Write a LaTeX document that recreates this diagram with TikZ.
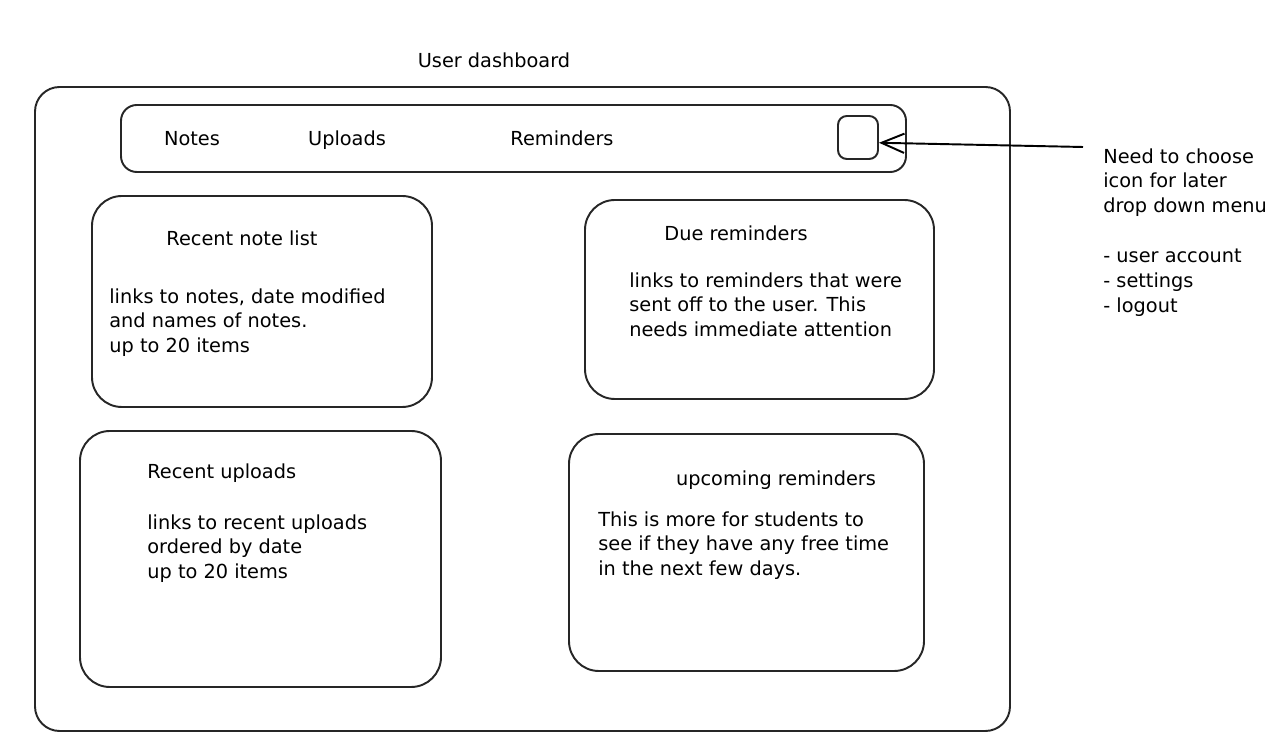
\documentclass[tikz,border=0pt]{standalone}
\usepackage{fontspec}
\setmainfont{DejaVu Sans}
\usetikzlibrary{arrows.meta, positioning}

\tikzset{
  panel/.style={draw=black!85, line width=1.1pt, rounded corners=14pt},
  label/.style={inner sep=0pt, font=\fontsize{11}{14.2}\selectfont},
  head/.style={label, text height=7.6pt, text depth=2.2pt, yshift=-1.5pt},
  body/.style={label, anchor=north west, align=left},
}

\begin{document}
\begin{tikzpicture}[x=0.02cm, y=-0.02cm]
  \useasboundingbox (0,0) rectangle (1279,756);

  % frame and nav bar
  \draw[panel] (35,87) rectangle (1010,731);
  \draw[panel, rounded corners=9pt] (121,105) rectangle (906,172);
  \node[head] (title) at (494,60) {User dashboard};
  \node[head] (notes) at (192,138) {Notes};
  \node[head] (uploads) at (347,138) {Uploads};
  \node[head] (reminders) at (562,138) {Reminders};
  \node[panel, rounded corners=5pt, minimum width=0.8cm, minimum height=0.86cm, inner sep=0pt] (icon) at (858,137.5) {};

  % four panels
  \draw[panel, rounded corners=17pt] (92,196) rectangle (432,407);
  \draw[panel, rounded corners=17pt] (585,200) rectangle (934,399);
  \draw[panel, rounded corners=17pt] (80,431) rectangle (441,687);
  \draw[panel, rounded corners=17pt] (569,434) rectangle (924,671);

  \node[head] (notehead) at (242,238) {Recent note list};
  \node[body] (notebody) at (109,288) {links to notes, date modified\\and names of notes.\\up to 20 items};

  \node[head] (duehead) at (736,233) {Due reminders};
  \node[body] (duebody) at (629,272) {links to reminders that were\\sent off to the user. This\\needs immediate attention};

  \node[head, anchor=west] (uphead) at (147,471) {Recent uploads};
  \node[body] (upbody) at (147,514) {links to recent uploads\\ordered by date\\up to 20 items};

  \node[head] (nexthead) at (776,478) {upcoming reminders};
  \node[body] (nextbody) at (598,511) {This is more for students to\\see if they have any free time\\in the next few days.};

  % side note
  \node[body] (sidenote) at (1103,148) {Need to choose\\icon for later\\drop down menu\\[14.2pt]- user account\\- settings\\- logout};
  \coordinate (notetail) at (1083,147);
  \draw[line width=1.1pt, -{Straight Barb[length=13pt, width=11pt]}] (notetail) -- ([yshift=-3pt]icon.east);
\end{tikzpicture}
\end{document}
